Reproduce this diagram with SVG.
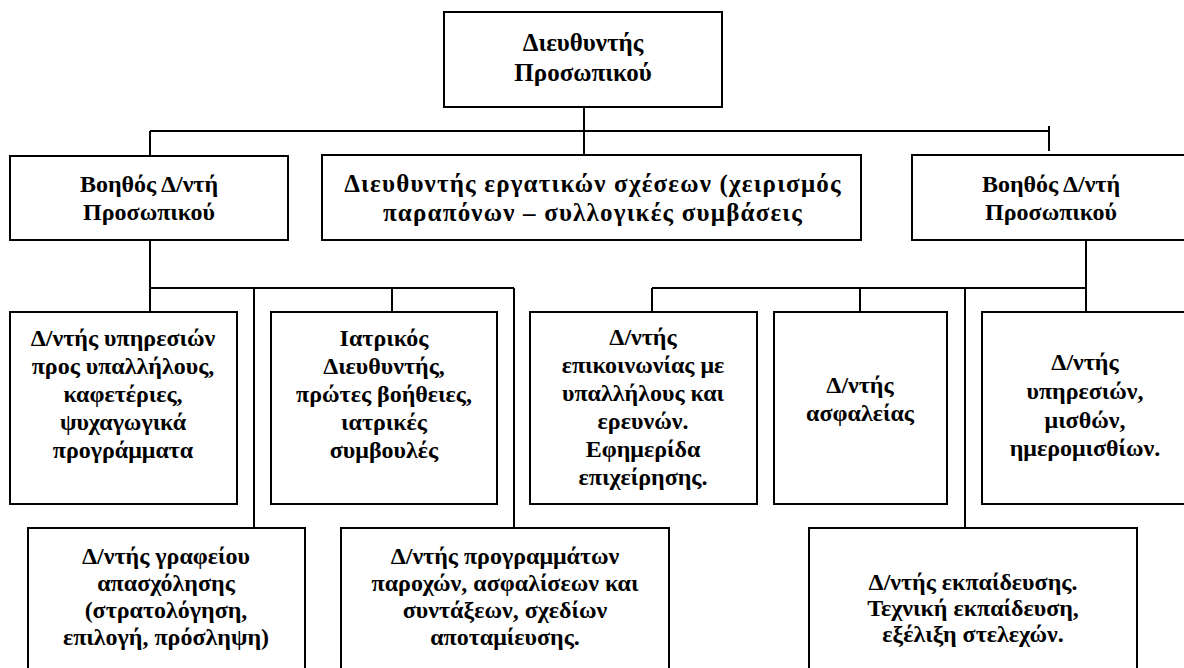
<svg xmlns="http://www.w3.org/2000/svg" width="1184" height="668" viewBox="0 0 1184 668">
<style>
.box{fill:#fff;stroke:#000;stroke-width:2}
.c{fill:none;stroke:#000;stroke-width:2}
text{font-family:"Liberation Serif","Times New Roman",serif;font-weight:bold;font-size:24px;fill:#000;text-anchor:middle}
.big{font-size:25px;letter-spacing:1.2px}
.top{font-size:25px}
</style>
<rect width="1184" height="668" fill="#fff"/>
<g id="connectors">
<path class="c" d="M584 107V155M150 131H1050M150 131V156M1049 126V151"/>
<path class="c" d="M150 240V312M150 288H514M254 288V528M392 288V312M514 288V528"/>
<path class="c" d="M1086 240V312M652 288H1086M652 288V312M860 288V312M965 288V528"/>
</g>
<g id="n-top">
<rect class="box" x="444" y="12" width="278" height="95"/>
<text class="top" x="583" y="51">Διευθυντής</text>
<text class="top" x="583" y="81">Προσωπικού</text>
</g>
<g id="n-asst-left">
<rect class="box" x="10" y="156" width="278" height="84"/>
<text x="149" y="192">Βοηθός Δ/ντή</text>
<text x="149" y="220">Προσωπικού</text>
</g>
<g id="n-labor">
<rect class="box" x="322" y="155" width="539" height="85"/>
<text class="big" x="593" y="192">Διευθυντής εργατικών σχέσεων (χειρισμός</text>
<text class="big" x="593" y="221">παραπόνων – συλλογικές συμβάσεις</text>
</g>
<g id="n-asst-right">
<rect class="box" x="912" y="155" width="290" height="85"/>
<text x="1051" y="192">Βοηθός Δ/ντή</text>
<text x="1051" y="220">Προσωπικού</text>
</g>
<g id="n-services">
<rect class="box" x="10" y="312" width="227" height="192"/>
<text x="123" y="346">Δ/ντής υπηρεσιών</text>
<text x="123" y="374">προς υπαλλήλους,</text>
<text x="123" y="402">καφετέριες,</text>
<text x="123" y="430">ψυχαγωγικά</text>
<text x="123" y="458">προγράμματα</text>
</g>
<g id="n-medical">
<rect class="box" x="271" y="312" width="226" height="192"/>
<text x="384" y="346">Ιατρικός</text>
<text x="384" y="374">Διευθυντής,</text>
<text x="384" y="402">πρώτες βοήθειες,</text>
<text x="384" y="430">ιατρικές</text>
<text x="384" y="458">συμβουλές</text>
</g>
<g id="n-comm">
<rect class="box" x="530" y="312" width="227" height="192"/>
<text x="643" y="345">Δ/ντής</text>
<text x="643" y="373">επικοινωνίας με</text>
<text x="643" y="401">υπαλλήλους και</text>
<text x="643" y="429">ερευνών.</text>
<text x="643" y="457">Εφημερίδα</text>
<text x="643" y="485">επιχείρησης.</text>
</g>
<g id="n-safety">
<rect class="box" x="774" y="312" width="173" height="192"/>
<text x="860" y="393">Δ/ντής</text>
<text x="860" y="421">ασφαλείας</text>
</g>
<g id="n-payroll">
<rect class="box" x="982" y="312" width="220" height="192"/>
<text x="1085" y="370">Δ/ντής</text>
<text x="1085" y="399">υπηρεσιών,</text>
<text x="1085" y="428">μισθών,</text>
<text x="1085" y="456">ημερομισθίων.</text>
</g>
<g id="n-employment">
<rect class="box" x="28" y="528" width="277" height="160"/>
<text x="166" y="564">Δ/ντής γραφείου</text>
<text x="166" y="591">απασχόλησης</text>
<text x="166" y="618">(στρατολόγηση,</text>
<text x="166" y="645">επιλογή, πρόσληψη)</text>
</g>
<g id="n-benefits">
<rect class="box" x="341" y="528" width="328" height="160"/>
<text x="505" y="564">Δ/ντής προγραμμάτων</text>
<text x="505" y="591">παροχών, ασφαλίσεων και</text>
<text x="505" y="618">συντάξεων, σχεδίων</text>
<text x="505" y="645">αποταμίευσης.</text>
</g>
<g id="n-training">
<rect class="box" x="809" y="528" width="328" height="160"/>
<text x="973" y="590">Δ/ντής εκπαίδευσης.</text>
<text x="973" y="616">Τεχνική εκπαίδευση,</text>
<text x="973" y="642">εξέλιξη στελεχών.</text>
</g>
</svg>
